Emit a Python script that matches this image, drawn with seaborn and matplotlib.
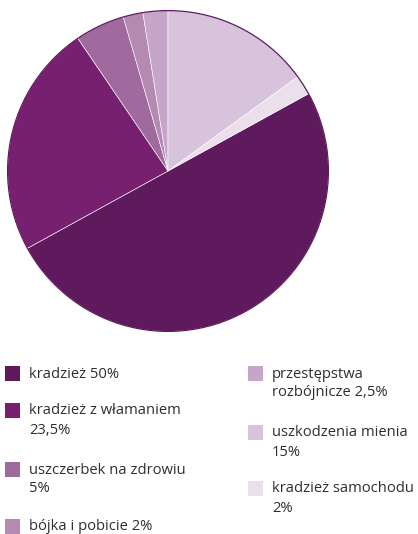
import matplotlib.pyplot as plt
import matplotlib.patches as mpatches
import seaborn as sns

# category data (legend order)
labels = ["kradzież", "kradzież z włamaniem", "uszczerbek na zdrowiu", "bójka i pobicie",
          "przestępstwa rozbójnicze", "uszkodzenia mienia", "kradzież samochodu"]
values = [50, 23.5, 5, 2, 2.5, 15, 2]
legend_text = ["kradzież 50%", "kradzież z włamaniem\n23,5%", "uszczerbek na zdrowiu\n5%",
               "bójka i pobicie 2%", "przestępstwa\nrozbójnicze 2,5%", "uszkodzenia mienia\n15%",
               "kradzież samochodu\n2%"]
colors = ["#5f1a5d", "#772070", "#a06a9e", "#b48ab3", "#c6a5c8", "#d8c3dc", "#ebdfec"]

sns.set_theme(style="white")
plt.rcParams['font.family'] = ['Open Sans', 'DejaVu Sans']

W, H = 418, 534
fig = plt.figure(figsize=(W / 100, H / 100), dpi=100)

# pie: center (168, 171), radius 162 px
cx, cy, r = 168, 171, 162
ax = fig.add_axes([(cx - r) / W, 1 - (cy + r) / H, 2 * r / W, 2 * r / H])
start = 90 + 360 * sum(values[:5]) / sum(values)
ax.pie(values, colors=colors, startangle=start, counterclock=False, radius=1,
       wedgeprops=dict(edgecolor="white", linewidth=0.4))
ax.add_patch(mpatches.Circle((0, 0), 1, fill=False, edgecolor="#5f1a5d", linewidth=0.9))
ax.set_xlim(-1.01, 1.01)
ax.set_ylim(-1.01, 1.01)
ax.set_aspect("equal")
ax.axis("off")

# legend, drawn by hand so the square lines up with the first text line
sq = 15
rows = [(5, 366), (5, 403), (5, 462), (5, 519), (248, 366), (248, 425), (248, 481)]
for (x, y), txt, col in zip(rows, legend_text, colors):
    fig.patches.append(mpatches.Rectangle((x / W, 1 - (y + sq) / H), sq / W, sq / H,
                                          transform=fig.transFigure, facecolor=col,
                                          edgecolor="none"))
    for i, line in enumerate(txt.split("\n")):
        fig.text((x + 24) / W, 1 - (y + 11.5 + 19 * i) / H, line, fontsize=10.6,
                 color="#2e2e2e", va="baseline", ha="left")

plt.savefig("out.png", dpi=100)
